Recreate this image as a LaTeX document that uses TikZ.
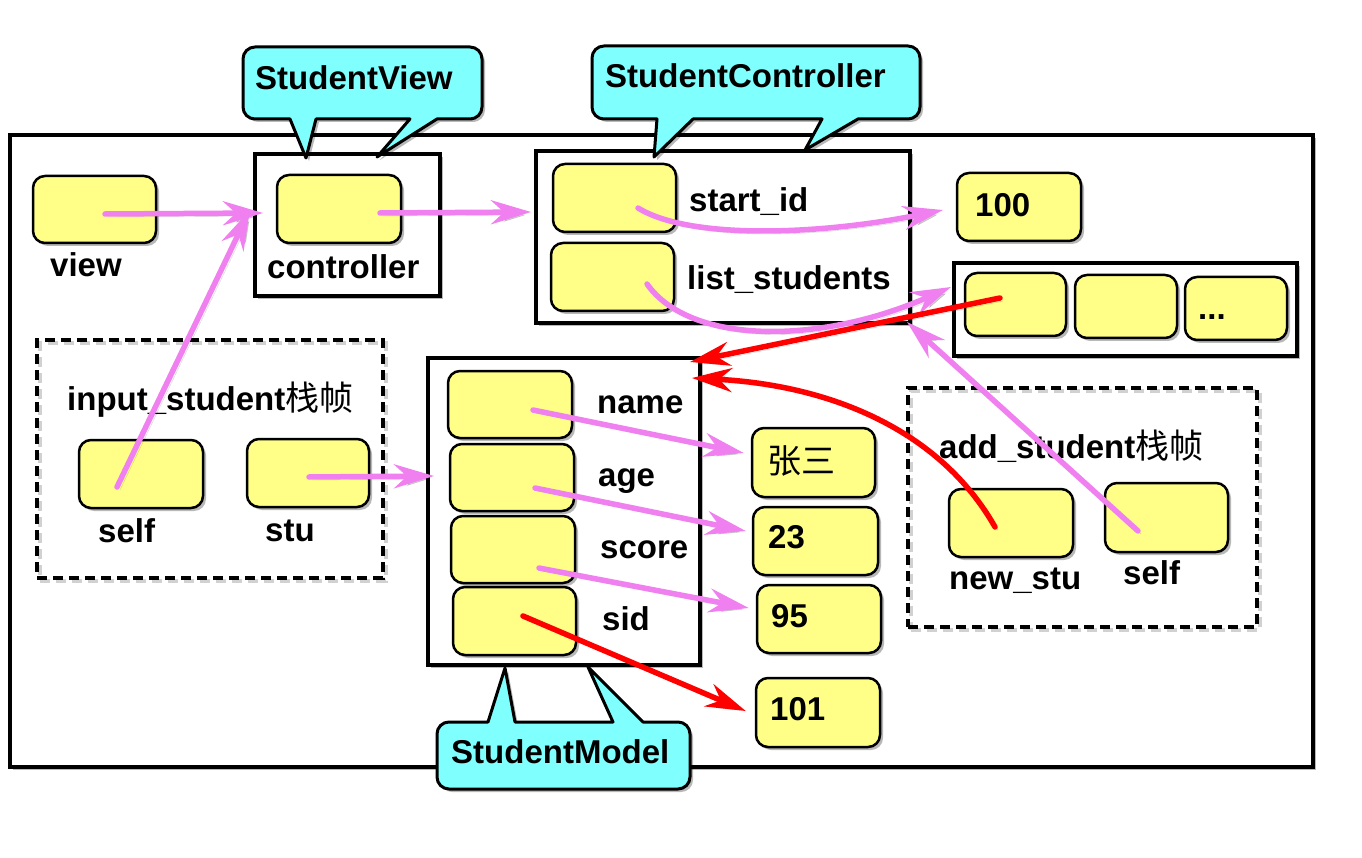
\documentclass[tikz,border=0pt]{standalone}
\usepackage{fontspec}
\setmainfont{Liberation Sans}
\newfontfamily\cjk{Noto Sans CJK SC}
\usetikzlibrary{arrows.meta,shadows}

\definecolor{cellyellow}{RGB}{255,255,136}
\definecolor{tagcyan}{RGB}{128,255,255}
\definecolor{refpink}{RGB}{240,128,240}
\definecolor{refred}{RGB}{255,0,0}

\tikzset{
  softshadow/.style={drop shadow={shadow xshift=3pt,shadow yshift=-3pt,opacity=0.28,fill=black}},
  cell/.style={draw, line width=2.5pt, fill=cellyellow, rounded corners=12pt, inner sep=0pt, softshadow},
  holder/.style={draw, line width=4pt, fill=white, inner sep=0pt, softshadow},
  stackframe/.style={draw, line width=3.6pt, dash pattern=on 10pt off 6pt, inner sep=0pt,
    preaction={draw=black, opacity=0.18, transform canvas={xshift=3pt,yshift=-3pt}}},
  lbl/.style={font=\fontsize{33}{40}\selectfont\bfseries, anchor=base west, inner sep=0pt},
  hanzi/.style={font=\fontsize{34}{40}\cjk\mdseries},
  ptr/.style={line width=5.5pt, refpink, line cap=round,
    -{Stealth[length=40pt,width=24pt,inset=13pt]},
    preaction={draw=black, opacity=0.18, transform canvas={xshift=3pt,yshift=-3pt}}},
  redptr/.style={ptr, refred},
  callout/.style={draw, line width=3pt, fill=tagcyan, line join=round, softshadow}
}

\begin{document}
\begin{tikzpicture}[x=1pt, y=-1pt]
\useasboundingbox (0,0) rectangle (1362,858);

% memory area
\node[holder, minimum width=1303pt, minimum height=632pt] (outer) at (661.5,451) {};

% object boxes and stack frames
\node[holder, minimum width=185pt, minimum height=142pt] (viewobj) at (347.5,225) {};
\node[holder, minimum width=374pt, minimum height=172pt] (ctrlobj) at (723,237) {};
\node[holder, minimum width=343pt, minimum height=93pt] (listobj) at (1125.5,309.5) {};
\node[holder, minimum width=272pt, minimum height=307pt] (modelobj) at (564,511.5) {};
\node[stackframe, minimum width=346pt, minimum height=238pt] (iframe) at (210,459) {};
\node[stackframe, minimum width=349pt, minimum height=239pt] (aframe) at (1082.5,507.5) {};

% reference cells
\node[cell, minimum width=123pt, minimum height=67pt] (view) at (94.5,209.5) {};
\node[cell, minimum width=124pt, minimum height=68pt] (ctrl) at (339,209) {};
\node[cell, minimum width=123pt, minimum height=68pt] (bstart) at (614.5,198) {};
\node[cell, minimum width=123pt, minimum height=68pt] (blist) at (612.5,277) {};
\node[cell, minimum width=124pt, minimum height=68pt] (v100) at (1019,207) {};
\node[cell, minimum width=101pt, minimum height=63pt] (l1) at (1015.5,304.5) {};
\node[cell, minimum width=102pt, minimum height=63pt] (l2) at (1126,306.5) {};
\node[cell, minimum width=102pt, minimum height=63pt] (l3) at (1236,308.5) {};
\node[cell, minimum width=124pt, minimum height=67pt] (bname) at (510,404.5) {};
\node[cell, minimum width=124pt, minimum height=67pt] (bage) at (512,477.5) {};
\node[cell, minimum width=124pt, minimum height=67pt] (bscore) at (513,549.5) {};
\node[cell, minimum width=123pt, minimum height=68pt] (bsid) at (514.5,621) {};
\node[cell, minimum width=123pt, minimum height=69pt] (vname) at (813.5,462.5) {};
\node[cell, minimum width=125pt, minimum height=68pt] (v23) at (815.5,541) {};
\node[cell, minimum width=124pt, minimum height=68pt] (v95) at (819,619) {};
\node[cell, minimum width=124pt, minimum height=69pt] (v101) at (818,712.5) {};
\node[cell, minimum width=124pt, minimum height=68pt] (iself) at (141,474) {};
\node[cell, minimum width=122pt, minimum height=68pt] (istu) at (308,473) {};
\node[cell, minimum width=124pt, minimum height=68pt] (anew) at (1011,523) {};
\node[cell, minimum width=123pt, minimum height=69pt] (aself) at (1166.5,517.5) {};

% names and values
\node[lbl] (tview) at (50,277) {view};
\node[lbl] (tctrl) at (267,279) {controller};
\node[lbl] (tstart) at (689,212) {start\_id};
\node[lbl] (tlist) at (687,290) {list\_students};
\node[lbl] (tdots) at (1198,320) {...};
\node[lbl] (t100) at (975,217) {100};
\node[lbl] (tname) at (597,413) {name};
\node[lbl] (tage) at (598,486) {age};
\node[lbl] (tscore) at (600,558) {score};
\node[lbl] (tsid) at (602,630) {sid};
\node[lbl, hanzi] (tzs) at (767,473) {张三};
\node[lbl] (t23) at (768,548) {23};
\node[lbl] (t95) at (771,627) {95};
\node[lbl] (t101) at (770,720) {101};
\node[lbl] (tiframe) at (67,410) {input\_student{\fontsize{34}{40}\cjk\mdseries 栈帧}};
\node[lbl] (tiself) at (98,542) {self};
\node[lbl] (tistu) at (265,541) {stu};
\node[lbl] (taframe) at (939,458) {add\_student{\fontsize{34}{40}\cjk\mdseries 栈帧}};
\node[lbl] (tanew) at (949,589) {new\_stu};
\node[lbl] (taself) at (1123,584) {self};

% references
\draw[ptr] ([shift={(10.5,4.5)}]view.center) -- ([shift={(-76,4)}]ctrl.center);
\draw[ptr] ([shift={(-24,13)}]iself.center) -- ([shift={(-89,1)}]ctrl.center);
\draw[ptr] ([shift={(41,4)}]ctrl.center) -- ([shift={(-3,-25)}]ctrlobj.west);
\draw[ptr] ([shift={(23.5,10)}]bstart.center) .. controls (690,240) and (820,235) .. ([shift={(-76,3)}]v100.center);
\draw[ptr] ([shift={(34.5,7)}]blist.center) .. controls (690,345) and (820,345) .. ([shift={(-1,-22.5)}]listobj.west);
\draw[redptr] ([shift={(-15.5,-6.5)}]l1.center) -- ([shift={(-12,6)}]modelobj.north east);
\draw[ptr] ([shift={(-28.5,13.5)}]aself.center) -- ([shift={(-5,-3)}]ctrlobj.south east);
\draw[redptr] ([shift={(-16,4)}]anew.center) .. controls (940,430) and (830,385) .. ([shift={(-10,22)}]modelobj.north east);
\draw[ptr] ([shift={(1,4)}]istu.center) -- ([shift={(8,-35.5)}]modelobj.west);
\draw[ptr] ([shift={(23,5.5)}]bname.center) -- ([shift={(-7,-9.5)}]vname.west);
\draw[ptr] ([shift={(23,10.5)}]bage.center) -- ([shift={(-6,-10)}]v23.west);
\draw[ptr] ([shift={(26,18.5)}]bscore.center) -- ([shift={(-7,-11)}]v95.west);
\draw[redptr] ([shift={(8.5,-5)}]bsid.center) -- ([shift={(-9,-1.5)}]v101.west);

% class callouts
\draw[callout] (360,47) [rounded corners=12pt] -- (482,47) -- (482,119) -- (460,119) [sharp corners] -- (437,119) -- (377,157) -- (410,119) -- (316,119) -- (306,158) -- (290,119) -- (266,119) [rounded corners=12pt] -- (243,119) -- (243,47) -- cycle;
\node[lbl] (cview) at (255,90) {StudentView};

\draw[callout] (750,46) [rounded corners=12pt] -- (920,46) -- (920,119) -- (890,119) [sharp corners] -- (858,119) -- (805,150) -- (822,119) -- (693,119) -- (654,157) -- (657,119) -- (625,119) [rounded corners=12pt] -- (592,119) -- (592,46) -- cycle;
\node[lbl] (cctrl) at (605,88) {StudentController};

\draw[callout] (560,789) [rounded corners=12pt] -- (437,789) -- (437,722) -- (465,722) [sharp corners] -- (488,722) -- (505,668) -- (515,722) -- (613,722) -- (588,667) -- (643,722) -- (665,722) [rounded corners=12pt] -- (690,722) -- (690,789) -- cycle;
\node[lbl] (cmodel) at (451,763) {StudentModel};
\end{tikzpicture}
\end{document}
